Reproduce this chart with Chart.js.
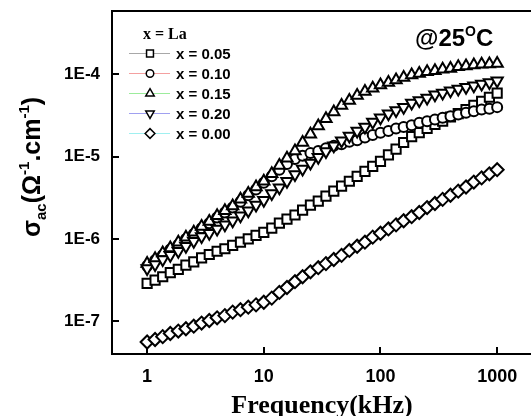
<!DOCTYPE html>
<html lang="en">
<head>
<meta charset="UTF-8">
<title>AC conductivity vs frequency</title>
<script src="https://cdn.jsdelivr.net/npm/chart.js"></script>
<style>
  html, body { margin: 0; padding: 0; background: #fff; }
  .wrap { position: relative; width: 531px; height: 416px; }
</style>
</head>
<body>
<div class="wrap"><canvas id="acChart" width="531" height="416"></canvas></div>
<script>
// frequency (kHz)
const freq = [1, 1.17, 1.36, 1.58, 1.85, 2.15, 2.51, 2.93, 3.41, 3.98, 4.64, 5.41, 6.31, 7.36, 8.58,
  10, 11.7, 13.6, 15.8, 18.5, 21.5, 25.1, 29.3, 34.1, 39.8, 46.4, 54.1, 63.1, 73.6, 85.8,
  100, 117, 136, 158, 185, 215, 251, 293, 341, 398, 464, 541, 631, 736, 858, 1000];

// sigma_ac (S/cm) for each La content
const sigma005 = [2.88e-7, 3.16e-7, 3.47e-7, 3.89e-7, 4.27e-7, 4.79e-7, 5.25e-7, 5.89e-7, 6.46e-7, 7.08e-7, 7.59e-7, 8.32e-7, 9.12e-7, 1.00e-6, 1.10e-6,
  1.20e-6, 1.35e-6, 1.55e-6, 1.74e-6, 1.95e-6, 2.24e-6, 2.57e-6, 2.88e-6, 3.31e-6, 3.80e-6, 4.37e-6, 5.01e-6, 5.75e-6, 6.61e-6, 7.59e-6,
  8.71e-6, 1.05e-5, 1.23e-5, 1.48e-5, 1.74e-5, 1.95e-5, 2.19e-5, 2.45e-5, 2.69e-5, 3.02e-5, 3.31e-5, 3.72e-5, 4.17e-5, 4.68e-5, 5.25e-5,
  5.89e-5];
const sigma010 = [4.68e-7, 5.50e-7, 6.31e-7, 7.41e-7, 8.51e-7, 1.00e-6, 1.15e-6, 1.35e-6, 1.55e-6, 1.82e-6, 2.09e-6, 2.40e-6, 2.82e-6, 3.39e-6, 3.98e-6,
  4.79e-6, 5.75e-6, 6.92e-6, 8.13e-6, 9.33e-6, 1.02e-5, 1.10e-5, 1.17e-5, 1.26e-5, 1.35e-5, 1.41e-5, 1.51e-5, 1.58e-5, 1.70e-5, 1.82e-5,
  1.95e-5, 2.04e-5, 2.19e-5, 2.29e-5, 2.40e-5, 2.57e-5, 2.69e-5, 2.82e-5, 2.95e-5, 3.09e-5, 3.24e-5, 3.39e-5, 3.55e-5, 3.72e-5, 3.80e-5,
  3.98e-5];
const sigma015 = [5.01e-7, 5.75e-7, 6.76e-7, 7.76e-7, 9.12e-7, 1.05e-6, 1.20e-6, 1.41e-6, 1.62e-6, 1.91e-6, 2.19e-6, 2.51e-6, 3.02e-6, 3.55e-6, 4.27e-6,
  5.01e-6, 6.17e-6, 7.76e-6, 9.55e-6, 1.17e-5, 1.48e-5, 1.86e-5, 2.34e-5, 2.88e-5, 3.47e-5, 4.17e-5, 4.79e-5, 5.50e-5, 6.17e-5, 6.76e-5,
  7.41e-5, 7.94e-5, 8.51e-5, 9.12e-5, 9.77e-5, 1.02e-4, 1.07e-4, 1.10e-4, 1.15e-4, 1.17e-4, 1.23e-4, 1.26e-4, 1.29e-4, 1.32e-4, 1.33e-4,
  1.35e-4];
const sigma020 = [4.37e-7, 4.90e-7, 5.62e-7, 6.31e-7, 7.08e-7, 8.13e-7, 9.33e-7, 1.07e-6, 1.17e-6, 1.32e-6, 1.48e-6, 1.66e-6, 1.91e-6, 2.19e-6, 2.57e-6,
  2.95e-6, 3.55e-6, 4.17e-6, 5.01e-6, 6.03e-6, 7.08e-6, 8.32e-6, 9.77e-6, 1.15e-5, 1.35e-5, 1.55e-5, 1.78e-5, 2.04e-5, 2.29e-5, 2.63e-5,
  2.95e-5, 3.31e-5, 3.63e-5, 3.98e-5, 4.47e-5, 4.79e-5, 5.13e-5, 5.62e-5, 5.89e-5, 6.31e-5, 6.61e-5, 6.92e-5, 7.24e-5, 7.59e-5, 7.94e-5,
  8.32e-5];
const sigma000 = [5.6e-8, 6.0e-8, 6.5e-8, 7.1e-8, 7.6e-8, 8.1e-8, 8.7e-8, 9.5e-8, 1.02e-7, 1.10e-7, 1.17e-7, 1.29e-7, 1.38e-7, 1.48e-7, 1.58e-7,
  1.70e-7, 1.91e-7, 2.24e-7, 2.57e-7, 3.02e-7, 3.47e-7, 3.98e-7, 4.47e-7, 5.01e-7, 5.62e-7, 6.31e-7, 7.24e-7, 8.13e-7, 9.12e-7, 1.05e-6,
  1.17e-6, 1.32e-6, 1.48e-6, 1.66e-6, 1.86e-6, 2.09e-6, 2.40e-6, 2.69e-6, 3.02e-6, 3.39e-6, 3.80e-6, 4.27e-6, 4.90e-6, 5.50e-6, 6.17e-6,
  6.92e-6];

const seriesNames = ['x = 0.05', 'x = 0.10', 'x = 0.15', 'x = 0.20', 'x = 0.00'];
const xTicks = [1, 10, 100, 1000];
const yTicks = [1e-7, 1e-6, 1e-5, 1e-4];

const sans = '"Liberation Sans", Arial, sans-serif';
const serif = '"Liberation Serif", "Times New Roman", serif';

// marker looks: square, circle, up triangle, down triangle, diamond
const markers = [
  { style: 'rect', radius: 6.5, rotation: 0, line: '#a8a8a8' },
  { style: 'circle', radius: 5, rotation: 0, line: '#f4a0a0' },
  { style: 'triangle', radius: 6.5, rotation: 0, line: '#9cec9c' },
  { style: 'triangle', radius: 6.5, rotation: 180, line: '#a0a0f0' },
  { style: 'rectRot', radius: 6.5, rotation: 0, line: '#a0f0f0' }
];
const allSeries = [sigma005, sigma010, sigma015, sigma020, sigma000];

function richText(ctx, parts, x, y, measureOnly) {
  let cx = x;
  parts.forEach(p => {
    ctx.font = p.font;
    if (!measureOnly) ctx.fillText(p.text, cx, y + (p.dy || 0));
    cx += ctx.measureText(p.text).width;
  });
  return cx - x;
}

const decorPlugin = {
  id: 'decor',
  afterDraw(chart) {
    const ctx = chart.ctx;
    const a = chart.chartArea;
    const xs = chart.scales.x, ys = chart.scales.y;
    ctx.save();

    // frame + inward ticks
    ctx.strokeStyle = '#000';
    ctx.lineWidth = 2;
    ctx.beginPath();
    ctx.moveTo(a.left - 1, a.top); ctx.lineTo(a.right + 3, a.top);
    ctx.moveTo(a.left, a.top); ctx.lineTo(a.left, a.bottom + 1);
    ctx.moveTo(a.left - 1, a.bottom); ctx.lineTo(a.right + 3, a.bottom);
    xTicks.forEach(v => {
      const px = Math.round(xs.getPixelForValue(v));
      ctx.moveTo(px, a.bottom); ctx.lineTo(px, a.bottom - 7);
    });
    yTicks.forEach(v => {
      const py = Math.round(ys.getPixelForValue(v));
      ctx.moveTo(a.left, py); ctx.lineTo(a.left + 7, py);
    });
    ctx.stroke();

    // legend
    ctx.fillStyle = '#000';
    ctx.textBaseline = 'alphabetic';
    ctx.font = 'bold 16px ' + serif;
    ctx.fillText('x = La', 143, 39);
    seriesNames.forEach((name, i) => {
      const cy = 53.5 + i * 20;
      const m = markers[i];
      ctx.strokeStyle = m.line;
      ctx.lineWidth = 1.2;
      ctx.beginPath();
      ctx.moveTo(129, cy); ctx.lineTo(170, cy);
      ctx.stroke();
      ctx.strokeStyle = '#000';
      ctx.fillStyle = '#fff';
      ctx.lineWidth = 1.5;
      Chart.helpers.drawPoint(ctx, {
        pointStyle: m.style, radius: m.radius * 0.75, rotation: m.rotation, borderWidth: 1.5
      }, 150, cy);
      ctx.fillStyle = '#000';
      ctx.font = 'bold 15px ' + sans;
      ctx.textBaseline = 'middle';
      ctx.fillText(name, 176, cy + 1);
      ctx.textBaseline = 'alphabetic';
    });

    // temperature note
    const big = 'bold 24px ' + sans, small = 'bold 14px ' + sans;
    richText(ctx, [
      { text: '@25', font: big },
      { text: 'O', font: small, dy: -10 },
      { text: 'C', font: big }
    ], 415, 46);

    // x title
    ctx.font = 'bold 26px ' + serif;
    ctx.textAlign = 'center';
    ctx.fillText('Frequency(kHz)', 322, 413);
    ctx.textAlign = 'left';

    // y title
    const yb = 'bold 25px ' + sans, ys2 = 'bold 15px ' + sans;
    const parts = [
      { text: 'σ', font: yb },
      { text: 'ac', font: ys2, dy: 6 },
      { text: '(Ω', font: yb },
      { text: '-1', font: ys2, dy: -11 },
      { text: '.cm', font: yb },
      { text: '-1', font: ys2, dy: -11 },
      { text: ')', font: yb }
    ];
    const w = richText(ctx, parts, 0, 0, true);
    ctx.translate(40, 167);
    ctx.rotate(-Math.PI / 2);
    richText(ctx, parts, -w / 2, 0);
    ctx.restore();
  }
};

new Chart(document.getElementById('acChart'), {
  type: 'line',
  data: {
    datasets: allSeries.map((vals, i) => ({
      label: seriesNames[i],
      data: freq.map((f, k) => ({ x: f, y: vals[k] })),
      showLine: false,
      pointStyle: markers[i].style,
      pointRadius: markers[i].radius,
      pointRotation: markers[i].rotation,
      pointBorderWidth: 2,
      pointBorderColor: '#000',
      pointBackgroundColor: '#fff',
      order: 5 - i
    }))
  },
  options: {
    responsive: false,
    animation: false,
    events: [],
    layout: { autoPadding: false, padding: { top: 11, right: 0, left: 0, bottom: 0 } },
    plugins: { legend: { display: false }, tooltip: { enabled: false } },
    scales: {
      x: {
        type: 'logarithmic',
        min: 0.5,
        max: 1950,
        grid: { display: false, drawTicks: false },
        border: { display: false },
        afterBuildTicks: s => { s.ticks = xTicks.map(v => ({ value: v })); },
        afterFit: s => { s.height = 62; s.paddingLeft = 0; s.paddingRight = 0; },
        ticks: {
          padding: 12,
          color: '#000',
          maxRotation: 0,
          font: { family: sans, size: 18, weight: 'bold' },
          callback: v => String(v)
        }
      },
      y: {
        type: 'logarithmic',
        min: 4.0e-8,
        max: 5.85e-4,
        grid: { display: false, drawTicks: false },
        border: { display: false },
        afterBuildTicks: s => { s.ticks = yTicks.map(v => ({ value: v })); },
        afterFit: s => { s.width = 112; s.paddingTop = 0; s.paddingBottom = 0; },
        ticks: {
          padding: 12,
          color: '#000',
          font: { family: sans, size: 17, weight: 'bold' },
          callback: v => '1E' + Math.round(Math.log10(v))
        }
      }
    }
  },
  plugins: [decorPlugin]
});
</script>
</body>
</html>
